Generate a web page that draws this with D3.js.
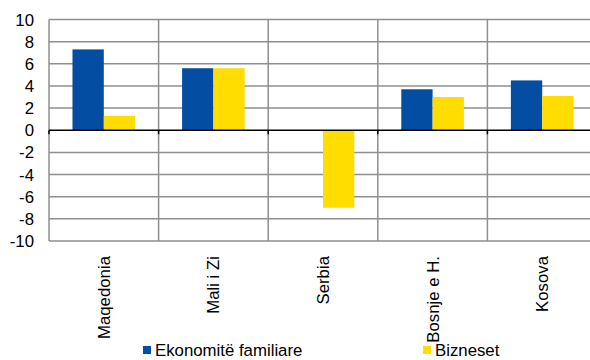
<!DOCTYPE html>
<html>
<head>
<meta charset="utf-8">
<script src="https://cdn.jsdelivr.net/npm/d3@7"></script>
<style>
  html, body { margin: 0; padding: 0; background: #fff; }
  svg { display: block; font-family: "Liberation Sans", Arial, sans-serif; }
</style>
</head>
<body>
<svg id="chart" width="590" height="360"></svg>
<script>
// Categories and series values
const categories = ["Maqedonia", "Mali i Zi", "Serbia", "Bosnje e H.", "Kosova"];
const households = [7.3, 5.6, null, 3.7, 4.5];
const businesses = [1.3, 5.6, -7.0, 3.0, 3.1];
const seriesNames = ["Ekonomitë familiare", "Bizneset"];
const seriesColors = ["#034EA2", "#FFDD00"];
const yTicks = [10, 8, 6, 4, 2, 0, -2, -4, -6, -8, -10];

const svg = d3.select("#chart");
const plotLeft = 49, plotRight = 597, plotTop = 19.5, plotBottom = 241;

const x = d3.scaleBand().domain(categories).range([plotLeft, plotRight]).paddingInner(0).paddingOuter(0);
const y = d3.scaleLinear().domain([-10, 10]).range([plotBottom, plotTop]);
const inner = d3.scaleBand().domain([0, 1]).range([0, x.bandwidth()]).paddingOuter(0.75).paddingInner(0);

const fontSize = 16.8;

// Horizontal gridlines
svg.append("g")
  .selectAll("line")
  .data(yTicks.filter(d => d !== 0))
  .join("line")
  .attr("x1", plotLeft).attr("x2", plotRight)
  .attr("y1", d => y(d)).attr("y2", d => y(d))
  .attr("stroke", "#8f8f8f").attr("stroke-width", 1.5);

// Vertical category separators
const bounds = categories.map(c => x(c)).concat([plotRight]);
svg.append("g")
  .selectAll("line")
  .data(bounds)
  .join("line")
  .attr("x1", d => d).attr("x2", d => d)
  .attr("y1", plotTop).attr("y2", plotBottom)
  .attr("stroke", "#8f8f8f").attr("stroke-width", 1.5);

// Bars
const series = [households, businesses];
series.forEach((vals, si) => {
  svg.append("g")
    .selectAll("rect")
    .data(categories.map((c, i) => ({ c, v: vals[i] })).filter(d => d.v !== null))
    .join("rect")
    .attr("x", d => x(d.c) + inner(si))
    .attr("width", inner.bandwidth())
    .attr("y", d => y(Math.max(0, d.v)))
    .attr("height", d => Math.abs(y(d.v) - y(0)))
    .attr("fill", seriesColors[si]);
});

// Zero line with tick marks
svg.append("line")
  .attr("x1", plotLeft).attr("x2", plotRight)
  .attr("y1", y(0)).attr("y2", y(0))
  .attr("stroke", "#000").attr("stroke-width", 1.5);
svg.append("g")
  .selectAll("line")
  .data(bounds)
  .join("line")
  .attr("x1", d => d).attr("x2", d => d)
  .attr("y1", y(0)).attr("y2", y(0) + 4)
  .attr("stroke", "#000").attr("stroke-width", 1.5);

// Y-axis labels
svg.append("g")
  .selectAll("text")
  .data(yTicks)
  .join("text")
  .attr("x", 34)
  .attr("y", d => y(d))
  .attr("dy", "0.36em")
  .attr("text-anchor", "end")
  .attr("font-size", fontSize)
  .attr("fill", "#000")
  .text(d => d);

// Category labels, rotated
svg.append("g")
  .selectAll("text")
  .data(categories)
  .join("text")
  .attr("transform", d => `translate(${x(d) + x.bandwidth() / 2 + 6},256) rotate(-90)`)
  .attr("text-anchor", "end")
  .attr("font-size", fontSize)
  .attr("fill", "#000")
  .text(d => d);

// Legend
const legendX = [143, 423];
const lg = svg.append("g")
  .selectAll("g")
  .data(seriesNames)
  .join("g")
  .attr("transform", (d, i) => `translate(${legendX[i]},0)`);
lg.append("rect")
  .attr("x", 0).attr("y", 346)
  .attr("width", 8).attr("height", 8)
  .attr("fill", (d, i) => seriesColors[i]);
lg.append("text")
  .attr("x", 12).attr("y", 356)
  .attr("font-size", fontSize)
  .attr("fill", "#000")
  .text(d => d);
</script>
</body>
</html>
